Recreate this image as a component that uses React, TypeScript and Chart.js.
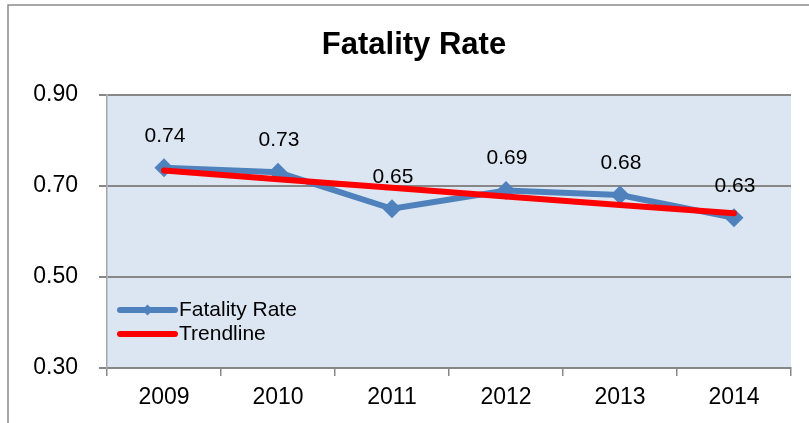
import React, { useEffect, useRef } from "react";
import { Chart, registerables } from "chart.js";

Chart.register(...registerables);

const chartTitle = "Fatality Rate";
const categories = ["2009", "2010", "2011", "2012", "2013", "2014"];
const fatalityRate = [0.74, 0.73, 0.65, 0.69, 0.68, 0.63];
const trendline = [0.734, 0.715, 0.696, 0.677, 0.658, 0.64];
const yTicks = [0.3, 0.5, 0.7, 0.9];
const seriesNames = ["Fatality Rate", "Trendline"];

const FONT = "'Liberation Sans', Arial, sans-serif";
const BLUE = "#4F81BD";
const RED = "#FF0000";
const GRID = "#878787";
const PLOT_BG = "#DCE6F2";

const framePlugin = {
  id: "frame",
  beforeDraw(chart: any) {
    const { ctx, chartArea } = chart;
    ctx.save();
    ctx.fillStyle = "#ffffff";
    ctx.fillRect(0, 0, chart.width, chart.height);
    ctx.strokeStyle = "#8a8a8a";
    ctx.lineWidth = 1.5;
    ctx.strokeRect(8, 5, 1000, 1000);
    ctx.fillStyle = PLOT_BG;
    ctx.fillRect(chartArea.left, chartArea.top, chartArea.right - chartArea.left, chartArea.bottom - chartArea.top);
    ctx.restore();
  },
};

const dataLabelPlugin = {
  id: "dataLabels",
  afterDatasetsDraw(chart: any) {
    const { ctx } = chart;
    const meta = chart.getDatasetMeta(0);
    ctx.save();
    ctx.font = `21px ${FONT}`;
    ctx.fillStyle = "#000000";
    ctx.textAlign = "center";
    ctx.textBaseline = "middle";
    meta.data.forEach((pt: any, i: number) => {
      ctx.fillText(fatalityRate[i].toFixed(2), pt.x + 1, pt.y - 32);
    });
    ctx.restore();
  },
};

const legendPlugin = {
  id: "insideLegend",
  afterDraw(chart: any) {
    const { ctx, chartArea } = chart;
    const x0 = chartArea.left + 13;
    const x1 = x0 + 55;
    const rows = [chartArea.bottom - 58, chartArea.bottom - 34];
    const colors = [BLUE, RED];
    ctx.save();
    rows.forEach((y, i) => {
      ctx.strokeStyle = colors[i];
      ctx.lineWidth = 6;
      ctx.lineCap = "round";
      ctx.beginPath();
      ctx.moveTo(x0, y);
      ctx.lineTo(x1, y);
      ctx.stroke();
      if (i === 0) {
        const cx = (x0 + x1) / 2;
        ctx.fillStyle = BLUE;
        ctx.beginPath();
        ctx.moveTo(cx, y - 5.5);
        ctx.lineTo(cx + 5.5, y);
        ctx.lineTo(cx, y + 5.5);
        ctx.lineTo(cx - 5.5, y);
        ctx.closePath();
        ctx.fill();
      }
      ctx.fillStyle = "#000000";
      ctx.font = `21px ${FONT}`;
      ctx.textAlign = "left";
      ctx.textBaseline = "middle";
      ctx.fillText(seriesNames[i], x1 + 4, y);
    });
    ctx.restore();
  },
};

export default function App() {
  const ref = useRef<HTMLCanvasElement | null>(null);

  useEffect(() => {
    if (!ref.current) return;
    const chart = new Chart(ref.current, {
      type: "line",
      data: {
        labels: categories,
        datasets: [
          {
            label: seriesNames[0],
            data: fatalityRate,
            borderColor: BLUE,
            backgroundColor: BLUE,
            borderWidth: 6,
            pointStyle: "rectRot",
            pointRadius: 9.5,
            pointBorderWidth: 0,
            pointBackgroundColor: BLUE,
            tension: 0,
            order: 2,
            yAxisID: "y",
          },
          {
            label: seriesNames[1],
            data: trendline,
            borderColor: RED,
            backgroundColor: RED,
            borderWidth: 6,
            borderCapStyle: "round",
            pointRadius: 0,
            tension: 0,
            order: 1,
            yAxisID: "y",
          },
        ],
      },
      options: {
        responsive: false,
        animation: false,
        devicePixelRatio: 1,
        layout: { padding: { left: 19, right: 0, top: 0, bottom: 0 } },
        plugins: {
          legend: { display: false },
          tooltip: { enabled: false },
          title: {
            display: true,
            text: chartTitle,
            color: "#000000",
            font: { family: FONT, size: 31, weight: "bold", lineHeight: 1.2 },
            padding: { top: 26.4, bottom: 31.4 },
          },
        },
        scales: {
          x: {
            type: "category",
            offset: true,
            grid: {
              display: true,
              offset: true,
              drawOnChartArea: false,
              drawTicks: true,
              tickLength: 8,
              color: GRID,
              lineWidth: 1.5,
            },
            border: { display: true, color: GRID, width: 2 },
            ticks: {
              color: "#000000",
              font: { family: FONT, size: 23 },
              padding: 8,
              maxRotation: 0,
            },
            afterFit: (s: any) => {
              s.height = 55;
            },
          },
          y: {
            type: "linear",
            position: "left",
            min: 0.3,
            max: 0.9,
            afterBuildTicks: (s: any) => {
              s.ticks = yTicks.map((v) => ({ value: v }));
            },
            grid: {
              display: true,
              drawTicks: true,
              tickLength: 8,
              color: GRID,
              lineWidth: 2,
            },
            border: { display: true, color: "#a6a6a6", width: 1.5 },
            ticks: {
              color: "#000000",
              font: { family: FONT, size: 23 },
              padding: 21,
              callback: (v: any) => Number(v).toFixed(2),
            },
            afterFit: (s: any) => {
              s.width = 88;
            },
          },
          yRight: {
            type: "linear",
            position: "right",
            display: true,
            grid: { display: false },
            border: { display: false },
            ticks: { display: false },
            afterFit: (s: any) => {
              s.width = 18;
            },
          },
        },
      },
      plugins: [framePlugin, dataLabelPlugin, legendPlugin],
    } as any);
    return () => chart.destroy();
  }, []);

  return (
    <div style={{ position: "absolute", left: 0, top: 0, width: 809, height: 423, overflow: "hidden", background: "#fff" }}>
      <canvas ref={ref} width={809} height={423} style={{ display: "block" }} />
    </div>
  );
}
